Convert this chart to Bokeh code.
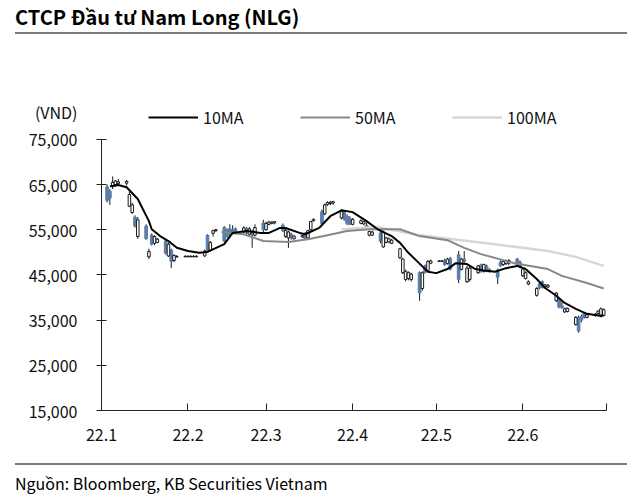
import numpy as np
import pandas as pd
from bokeh.plotting import figure
from bokeh.models import (Range1d, FixedTicker, NumeralTickFormatter, Legend, LegendItem,
                          Div, ColumnDataSource)
from bokeh.layouts import column
from bokeh.embed import file_html
from bokeh.resources import INLINE

FONT = "Noto Sans CJK KR"

# ---------------- data (prices in thousand VND) ----------------
dates = pd.bdate_range("2022-01-03", "2022-06-30")

opens = [
    64.5, 63.5, 64.5, 65.0, 65.2,
    65.3, 60.2, 58.8, 57.8, 53.5,
    55.8, 49.0, 53.8, 52.0, 52.2,
    52.5, 49.2, 50.5, 48.2, 49.0,
    49.0, 49.0, 49.0, 49.0, 49.0,
    49.2, 53.8, 50.5, 54.2, 54.8,
    55.5, 55.0, 55.2, 55.0, 55.2,
    54.5, 55.3, 54.0, 54.5, 53.8,
    56.5, 55.0, 56.2, 56.4, 56.5,
    56.0, 53.5, 53.2, 54.0, 53.0,
    53.4, 54.2, 53.2, 55.0, 57.0,
    59.0, 58.5, 60.6, 60.8, 60.9,
    57.6, 59.0, 58.0, 57.5, 56.2,
    56.4, 56.3, 56.0, 53.8, 53.8,
    54.3, 51.2, 52.2, 52.3, 52.0,
    48.8, 45.5, 44.0, 44.2, 44.0,
    45.5, 42.0, 47.0, 46.0, 47.6,
    48.0, 48.0, 48.2, 47.5, 48.6,
    49.5, 46.2, 48.5, 43.5, 44.0,
    45.5, 47.2, 45.8, 47.0, 46.2,
    46.0, 47.8, 47.3, 47.5, 47.6,
    48.5, 47.8, 44.8, 44.2, 43.0,
    40.5, 43.0, 43.5, 42.4, 42.3,
    39.3, 39.5, 38.2, 36.8, 36.9,
    34.0, 35.6, 35.8, 36.5, 35.6,
    36.0, 36.5, 35.8, 36.0,
]
highs = [
    65.0, 64.0, 66.8, 66.0, 66.2,
    66.0, 63.5, 61.0, 58.2, 57.8,
    56.2, 50.8, 54.2, 53.8, 53.2,
    52.8, 52.2, 50.8, 49.6, 49.4,
    49.4, 49.4, 49.4, 49.4, 49.4,
    50.6, 54.0, 52.5, 55.0, 55.2,
    55.8, 55.3, 56.2, 56.0, 55.5,
    55.8, 55.6, 55.6, 55.0, 56.2,
    57.2, 56.8, 57.0, 56.9, 56.9,
    56.4, 55.2, 54.8, 54.3, 53.8,
    53.9, 54.5, 55.0, 57.0, 57.5,
    59.5, 60.8, 61.3, 61.4, 61.4,
    59.6, 59.3, 58.4, 58.0, 57.6,
    57.3, 57.0, 56.6, 54.8, 54.8,
    54.6, 54.8, 53.4, 53.3, 53.0,
    51.0, 48.8, 46.2, 45.8, 45.5,
    45.8, 45.8, 47.3, 48.3, 48.4,
    48.3, 48.3, 48.6, 48.8, 49.0,
    50.3, 48.8, 50.3, 47.0, 46.8,
    47.2, 47.5, 47.5, 47.3, 46.5,
    46.4, 48.2, 48.3, 48.4, 48.5,
    48.8, 48.2, 46.6, 45.8, 43.8,
    42.3, 43.6, 43.8, 43.0, 43.0,
    41.2, 39.8, 39.0, 37.8, 37.8,
    35.9, 36.0, 36.2, 36.8, 36.5,
    36.6, 37.2, 37.8, 37.6,
]
lows = [
    61.0, 60.5, 64.0, 64.5, 64.8,
    64.8, 60.0, 58.5, 55.5, 53.0,
    52.8, 48.5, 51.5, 51.6, 52.0,
    49.5, 49.0, 46.5, 47.8, 48.8,
    49.0, 49.0, 49.0, 49.0, 49.0,
    49.0, 50.0, 50.2, 53.5, 54.5,
    52.2, 53.2, 53.5, 54.0, 54.0,
    54.2, 54.0, 53.8, 51.0, 53.5,
    54.5, 54.8, 56.0, 56.2, 56.2,
    54.5, 53.2, 51.0, 52.8, 52.8,
    53.2, 52.8, 53.0, 54.8, 56.8,
    56.0, 58.2, 60.3, 60.4, 60.5,
    57.3, 57.0, 56.0, 56.0, 56.0,
    56.2, 56.0, 55.4, 53.5, 53.6,
    52.0, 51.0, 52.0, 52.0, 51.8,
    48.5, 45.2, 43.6, 43.8, 43.5,
    39.3, 41.5, 45.3, 45.8, 47.4,
    48.0, 48.0, 47.0, 47.3, 46.0,
    43.2, 46.0, 47.5, 43.2, 43.5,
    45.2, 45.5, 45.5, 45.6, 45.5,
    43.0, 46.8, 47.0, 47.2, 47.2,
    47.0, 46.5, 44.5, 44.0, 42.7,
    40.2, 41.8, 42.0, 42.2, 42.1,
    39.0, 37.6, 37.5, 36.6, 36.7,
    33.8, 32.2, 34.5, 35.3, 35.4,
    35.8, 36.2, 35.6, 35.9,
]
closes = [
    61.5, 62.0, 65.5, 65.8, 65.6,
    65.7, 62.8, 60.5, 55.8, 57.2,
    53.0, 50.2, 51.8, 53.5, 52.9,
    49.8, 51.8, 48.0, 49.3, 49.1,
    49.1, 49.1, 49.1, 49.1, 49.1,
    50.3, 50.4, 52.2, 54.8, 55.0,
    52.5, 53.6, 54.0, 54.3, 54.5,
    55.4, 54.4, 55.2, 53.8, 55.5,
    55.0, 56.4, 56.7, 56.7, 56.8,
    54.8, 54.9, 54.5, 53.2, 53.6,
    53.7, 53.0, 54.8, 56.8, 57.3,
    56.4, 60.5, 61.0, 61.1, 61.2,
    59.1, 57.3, 56.4, 56.2, 57.3,
    57.0, 56.8, 55.6, 54.6, 54.5,
    52.5, 54.5, 53.2, 53.0, 52.7,
    50.8, 48.5, 45.8, 45.5, 45.2,
    41.0, 45.5, 45.6, 48.0, 48.1,
    48.1, 48.1, 47.3, 48.5, 46.3,
    44.0, 48.5, 48.0, 46.5, 46.5,
    47.0, 45.8, 47.3, 46.0, 45.8,
    44.5, 47.0, 48.0, 48.1, 48.2,
    47.3, 46.8, 46.3, 45.5, 43.5,
    42.0, 42.2, 42.2, 42.8, 42.7,
    41.0, 37.9, 37.8, 37.5, 37.6,
    35.6, 32.6, 35.0, 35.6, 36.2,
    36.3, 37.0, 37.5, 37.3,
]

ma10_dates = ["2022-01-04", "2022-01-07", "2022-01-10", "2022-01-14", "2022-01-18", "2022-01-19",
              "2022-01-22", "2022-01-25", "2022-01-28", "2022-02-01", "2022-02-05", "2022-02-08",
              "2022-02-14", "2022-02-17", "2022-02-22", "2022-02-27", "2022-03-02", "2022-03-06",
              "2022-03-08", "2022-03-13", "2022-03-15", "2022-03-20", "2022-03-24", "2022-03-28",
              "2022-04-01", "2022-04-06", "2022-04-10", "2022-04-15", "2022-04-18", "2022-04-21",
              "2022-04-25", "2022-04-28", "2022-05-01", "2022-05-05", "2022-05-08", "2022-05-12",
              "2022-05-15", "2022-05-19", "2022-05-22", "2022-05-26", "2022-05-30", "2022-06-02",
              "2022-06-06", "2022-06-09", "2022-06-13", "2022-06-16", "2022-06-20", "2022-06-24",
              "2022-06-28", "2022-06-30"]
ma10 = [64.6, 64.9, 64.4, 61.8, 56.9, 55.1, 53.6, 52.5, 51.0, 50.3, 49.9, 50.1,
        51.8, 54.3, 54.7, 54.3, 54.3, 55.4, 55.4, 54.3, 54.0, 55.4, 58.0, 59.3,
        58.9, 56.9, 55.1, 53.6, 52.1, 49.9, 47.5, 45.7, 45.4, 46.3, 47.6, 47.4,
        46.3, 45.9, 45.7, 46.5, 47.0, 46.3, 44.1, 42.1, 40.4, 38.8, 37.5, 36.4,
        36.0, 36.0]

ma50_dates = ["2022-02-13", "2022-02-21", "2022-02-28", "2022-03-09", "2022-03-16", "2022-03-23",
              "2022-03-30", "2022-04-07", "2022-04-18", "2022-04-25", "2022-05-05", "2022-05-11",
              "2022-05-17", "2022-05-29", "2022-06-10", "2022-06-15", "2022-06-24", "2022-06-30"]
ma50 = [54.5, 54.0, 52.5, 52.3, 52.9, 53.8, 54.7, 55.1, 55.1, 53.6, 52.7, 51.0,
        49.6, 47.6, 46.3, 44.8, 43.2, 42.0]

ma100_dates = ["2022-03-28", "2022-04-10", "2022-04-25", "2022-05-07", "2022-05-22",
               "2022-06-10", "2022-06-20", "2022-06-30"]
ma100 = [55.1, 55.6, 53.8, 52.9, 51.8, 50.3, 49.0, 47.0]

tick_dates = ["2022-01-01", "2022-02-01", "2022-03-01", "2022-04-01", "2022-05-01",
              "2022-06-01", "2022-07-01"]
tick_labels = ["22.1", "22.2", "22.3", "22.4", "22.5", "22.6", ""]
y_ticks = [15000, 25000, 35000, 45000, 55000, 65000, 75000]
y_unit = "(VND)"


def to_ms(d):
    return pd.to_datetime(d).values.astype("datetime64[ms]").astype("int64").astype(float)


K = 1000.0
x = to_ms(dates)
o = np.array(opens) * K
h = np.array(highs) * K
l = np.array(lows) * K
c = np.array(closes) * K
up = c >= o

UP_FILL = "#ffffff"
DOWN_FILL = "#5a7eab"
DAY = 86400000.0

src_up = ColumnDataSource(dict(x=x[up], top=np.maximum(o, c)[up], bottom=np.minimum(o, c)[up]))
src_dn = ColumnDataSource(dict(x=x[~up], top=np.maximum(o, c)[~up], bottom=np.minimum(o, c)[~up]))
src_w = ColumnDataSource(dict(x=x, h=h, l=l))

# frame spans above the 75,000 line so the legend sits inside it; axis is bounded
Y_TOP = 83380
p = figure(width=632, height=412, output_backend="svg", toolbar_location=None,
           x_range=Range1d(to_ms(["2022-01-01"])[0], to_ms(["2022-07-01"])[0]),
           y_range=Range1d(15000, Y_TOP),
           min_border_left=101, min_border_right=26, min_border_top=59, min_border_bottom=44)
p.outline_line_color = None
p.xgrid.visible = False
p.ygrid.visible = False
p.background_fill_color = "white"
p.border_fill_color = "white"

p.segment(x0="x", y0="l", x1="x", y1="h", source=src_w, line_color="#1a1a1a", line_width=1)
p.vbar(x="x", top="top", bottom="bottom", width=0.95 * DAY, source=src_dn,
       fill_color=DOWN_FILL, line_color=DOWN_FILL, line_width=1)
p.vbar(x="x", top="top", bottom="bottom", width=0.9 * DAY, source=src_up,
       fill_color=UP_FILL, line_color="#1a1a1a", line_width=1)

r100 = p.line(to_ms(ma100_dates), np.array(ma100) * K, line_color="#d6d6d6", line_width=2.5)
r50 = p.line(to_ms(ma50_dates), np.array(ma50) * K, line_color="#888888", line_width=2)
r10 = p.line(to_ms(ma10_dates), np.array(ma10) * K, line_color="#000000", line_width=2)

# axes
tick_ms = to_ms(tick_dates)
p.xaxis.ticker = FixedTicker(ticks=list(tick_ms))
p.xaxis.major_label_overrides = {float(t): lab for t, lab in zip(tick_ms, tick_labels)}
p.xaxis.minor_tick_line_color = None
p.xaxis.major_tick_in = 7
p.xaxis.major_tick_out = 0
p.xaxis.axis_line_color = "#222222"
p.xaxis.major_tick_line_color = "#222222"
p.xaxis.major_label_standoff = 18
p.xaxis.major_label_text_font = FONT
p.xaxis.major_label_text_font_size = "16px"
p.xaxis.major_label_text_color = "#111111"

p.yaxis.ticker = FixedTicker(ticks=y_ticks)
p.yaxis.bounds = (y_ticks[0], y_ticks[-1])
p.yaxis.formatter = NumeralTickFormatter(format="0,0")
p.yaxis.major_label_overrides = {y_ticks[-1]: y_unit + "\n" + f"{y_ticks[-1]:,}" + "\n "}
p.yaxis.major_label_text_line_height = 1.16
p.yaxis.minor_tick_line_color = None
p.yaxis.major_tick_in = 5
p.yaxis.major_tick_out = 5
p.yaxis.axis_line_color = "#222222"
p.yaxis.major_tick_line_color = "#222222"
p.yaxis.major_label_standoff = 19
p.yaxis.major_label_text_font = FONT
p.yaxis.major_label_text_font_size = "16px"
p.yaxis.major_label_text_color = "#111111"

legend = Legend(items=[LegendItem(label="10MA", renderers=[r10]),
                       LegendItem(label="50MA", renderers=[r50]),
                       LegendItem(label="100MA", renderers=[r100])],
                orientation="horizontal", location=(47, 281),
                glyph_width=50, glyph_height=20, label_width=45, label_height=20,
                label_standoff=5, spacing=52, padding=0, margin=0,
                border_line_color=None, background_fill_alpha=0,
                label_text_font=FONT, label_text_font_size="16px",
                label_text_color="#111111")
p.add_layout(legend, "center")

title_div = Div(text=('<div style="font-family:\'Noto Sans CJK KR\';font-weight:bold;font-size:20px;'
                      'color:#000;margin-left:10px;width:612px;height:29px;padding-top:1px;'
                      'line-height:22px;border-bottom:2px solid #7a7a7a;white-space:nowrap;">'
                      'CTCP Đầu tư Nam Long (NLG)</div>'), width=632, height=32)
src_div = Div(text=('<div style="font-family:\'Noto Sans CJK KR\';font-size:16px;color:#000;'
                    'margin-left:10px;width:612px;margin-top:4px;border-top:2px solid #7a7a7a;'
                    'padding-top:8px;line-height:20px;white-space:nowrap;">'
                    'Nguồn: Bloomberg, KB Securities Vietnam</div>'), width=632, height=38)

layout = column(title_div, p, src_div, spacing=0)
open("out.html", "w").write(file_html(layout, INLINE))
